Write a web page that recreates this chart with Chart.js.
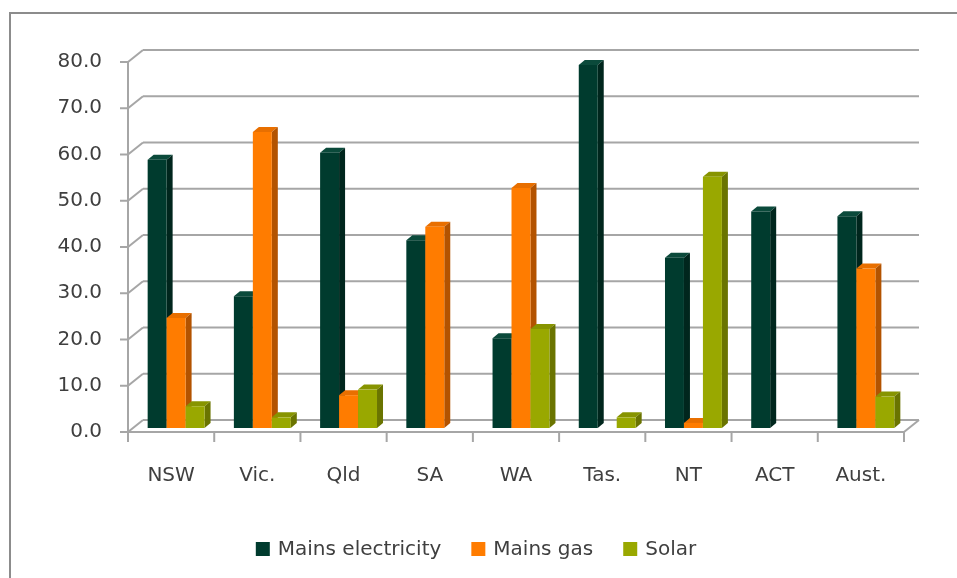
<!DOCTYPE html>
<html>
<head>
<meta charset="utf-8">
<script src="https://cdn.jsdelivr.net/npm/chart.js@4"></script>
<style>
  html, body { margin: 0; padding: 0; background: #fff; }
  #wrap { width: 957px; height: 578px; position: relative; }
</style>
</head>
<body>
<div id="wrap"><canvas id="heatChart"></canvas></div>
<script>
const categories  = ['NSW', 'Vic.', 'Qld', 'SA', 'WA', 'Tas.', 'NT', 'ACT', 'Aust.'];
const electricity = [58.0, 28.5, 59.5, 40.6, 19.4, 78.5, 36.8, 46.8, 45.8];
const mainsGas    = [23.8, 64.0, 7.1, 43.5, 51.9, null, 1.1, null, 34.5];
const solar       = [4.7, 2.3, 8.3, null, 21.4, 2.3, 54.3, null, 6.8];
const yTicks      = [0, 10, 20, 30, 40, 50, 60, 70, 80];

const seriesNames = ['Mains electricity', 'Mains gas', 'Solar'];
const faces = [
  { front: '#003b2e', side: '#00261d', top: '#0b4a3b' },
  { front: '#ff7c00', side: '#b35300', top: '#e86f00' },
  { front: '#99a800', side: '#6a7400', top: '#879400' },
];

const FONT = '"DejaVu Sans", Verdana, sans-serif';
const TEXT = '#3f3f3f';
const GRID = '#a6a6a6';

// floor / wall depth and the bar block inside it
const WALL = { dx: 15, dy: -12 };
const BAR_OFF = { dx: 5, dy: -4 };
const BAR_DEPTH = { dx: 6, dy: -5 };

function line(ctx, x1, y1, x2, y2) {
  ctx.beginPath();
  ctx.moveTo(x1, y1);
  ctx.lineTo(x2, y2);
  ctx.stroke();
}

function poly(ctx, pts, color) {
  ctx.beginPath();
  ctx.moveTo(pts[0][0], pts[0][1]);
  pts.slice(1).forEach(p => ctx.lineTo(p[0], p[1]));
  ctx.closePath();
  ctx.fillStyle = color;
  ctx.fill();
}

function drawGrid(chart) {
  const ctx = chart.ctx;
  const { left, right } = chart.chartArea;
  const y = chart.scales.y, x = chart.scales.x;
  ctx.save();
  ctx.strokeStyle = GRID;
  ctx.lineWidth = 2;
  ctx.lineCap = 'butt';

  yTicks.forEach(v => {
    const py = y.getPixelForValue(v);
    line(ctx, left - 8, py, left, py);
    line(ctx, left, py, left + WALL.dx, py + WALL.dy);
    line(ctx, left + WALL.dx, py + WALL.dy, right + WALL.dx, py + WALL.dy);
  });

  const base = y.getPixelForValue(0);
  line(ctx, left, y.getPixelForValue(yTicks[yTicks.length - 1]), left, base + 2);
  line(ctx, left, base, right, base);
  line(ctx, right, base, right + WALL.dx, base + WALL.dy);

  const half = (x.getPixelForValue(1) - x.getPixelForValue(0)) / 2;
  for (let i = 0; i <= categories.length; i++) {
    const px = i < categories.length ? x.getPixelForValue(i) - half : x.getPixelForValue(i - 1) + half;
    line(ctx, px, base, px, base + 10);
  }
  ctx.restore();
}

function drawBars(chart) {
  const ctx = chart.ctx;
  ctx.save();
  for (let j = 0; j < categories.length; j++) {
    chart.data.datasets.forEach((ds, i) => {
      if (ds.data[j] == null) return;
      const bar = chart.getDatasetMeta(i).data[j];
      const c = faces[i];
      const l = bar.x - bar.width / 2 + BAR_OFF.dx;
      const r = bar.x + bar.width / 2 + BAR_OFF.dx;
      const t = bar.y + BAR_OFF.dy;
      const b = bar.base + BAR_OFF.dy;
      const dx = BAR_DEPTH.dx, dy = BAR_DEPTH.dy;
      poly(ctx, [[l, t], [r, t], [r + dx, t + dy], [l + dx, t + dy]], c.top);
      poly(ctx, [[r, t], [r + dx, t + dy], [r + dx, b + dy], [r, b]], c.side);
      poly(ctx, [[l, t], [r, t], [r, b], [l, b]], c.front);
    });
  }
  ctx.restore();
}

function drawLegend(chart) {
  const ctx = chart.ctx;
  ctx.save();
  ctx.font = '20px ' + FONT;
  const box = 14, gap = 8, spacing = 30;
  const widths = seriesNames.map(n => ctx.measureText(n).width);
  const total = widths.reduce((a, w) => a + box + gap + w, 0) + spacing * (seriesNames.length - 1);
  let x = 476 - total / 2;
  const cy = 549;
  ctx.textBaseline = 'middle';
  ctx.textAlign = 'left';
  seriesNames.forEach((n, i) => {
    ctx.fillStyle = faces[i].front;
    ctx.fillRect(x, cy - 7, box, box);
    ctx.fillStyle = TEXT;
    ctx.fillText(n, x + box + gap, cy + 1);
    x += box + gap + widths[i] + spacing;
  });
  ctx.restore();
}

const chart3d = {
  id: 'chart3d',
  beforeDraw(chart) {
    const ctx = chart.ctx;
    ctx.save();
    ctx.strokeStyle = '#8c8c8c';
    ctx.lineWidth = 2;
    line(ctx, 10, 12, 10, chart.height);
    line(ctx, 9, 13, chart.width, 13);
    ctx.restore();
  },
  beforeDatasetsDraw(chart) {
    drawGrid(chart);
    drawBars(chart);
    return false;
  },
  afterDraw(chart) {
    drawLegend(chart);
  }
};

new Chart(document.getElementById('heatChart'), {
  type: 'bar',
  data: {
    labels: categories,
    datasets: [
      { label: seriesNames[0], data: electricity, backgroundColor: faces[0].front },
      { label: seriesNames[1], data: mainsGas, backgroundColor: faces[1].front },
      { label: seriesNames[2], data: solar, backgroundColor: faces[2].front },
    ]
  },
  options: {
    responsive: true, maintainAspectRatio: false,
    animation: false,
    layout: { padding: { top: 62, right: 53, bottom: 0, left: 0 } },
    categoryPercentage: 0.66,
    barPercentage: 1,
    plugins: { legend: { display: false }, tooltip: { enabled: false } },
    scales: {
      x: {
        grid: { display: false, drawTicks: false },
        border: { display: false },
        ticks: { color: TEXT, font: { family: FONT, size: 20 }, padding: 32, maxRotation: 0 },
        afterFit: s => { s.height = 146; }
      },
      y: {
        min: 0, max: 80,
        grid: { display: false, drawTicks: false },
        border: { display: false },
        ticks: {
          stepSize: 10, color: TEXT, font: { family: FONT, size: 20 }, padding: 26,
          callback: v => v.toFixed(1)
        },
        afterFit: s => { s.width = 128; }
      }
    }
  },
  plugins: [chart3d]
});
</script>
</body>
</html>
